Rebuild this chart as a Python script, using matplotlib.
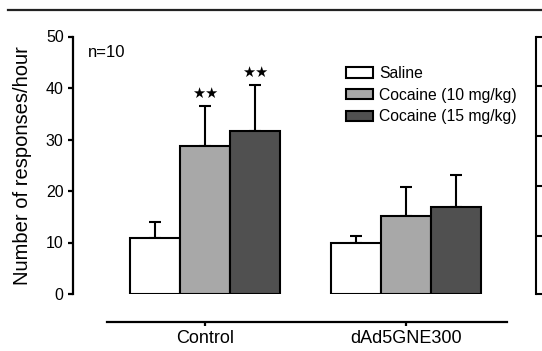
import matplotlib
matplotlib.use("Agg")
import matplotlib.pyplot as plt
import numpy as np
from matplotlib.lines import Line2D

plt.rcParams['font.family'] = ['Liberation Sans', 'DejaVu Sans']

groups = ["Control", "dAd5GNE300"]
series = ["Saline", "Cocaine (10 mg/kg)", "Cocaine (15 mg/kg)"]
means = {
    "Saline": [10.8, 10.0],
    "Cocaine (10 mg/kg)": [28.8, 15.2],
    "Cocaine (15 mg/kg)": [31.6, 16.8],
}
err_top = {
    "Saline": [13.9, 11.2],
    "Cocaine (10 mg/kg)": [36.6, 20.8],
    "Cocaine (15 mg/kg)": [40.6, 23.1],
}
colors = ["#ffffff", "#a8a8a8", "#505050"]
signif = {
    "Cocaine (10 mg/kg)": ["★★", ""],
    "Cocaine (15 mg/kg)": ["★★", ""],
}
yticks = [0, 10, 20, 30, 40, 50]

W, H = 542, 351
fig = plt.figure(figsize=(W / 100, H / 100), dpi=100)

def fx(px):
    return px / W

def fy(py):
    return 1 - py / H

ax_left, ax_right = 72.7, 507
ax_top, ax_bot = 36.5, 294
ax = fig.add_axes([fx(ax_left), fy(ax_bot), fx(ax_right - ax_left), (ax_bot - ax_top) / H])

x = np.arange(len(groups))
bw = 0.249
for i, s in enumerate(series):
    xs = x + (i - 1) * bw
    m = np.array(means[s])
    e = np.array(err_top[s]) - m
    ax.bar(xs, m, width=bw, color=colors[i], edgecolor="black", linewidth=1.5,
           label=s, zorder=2)
    ax.errorbar(xs, m, yerr=[np.zeros_like(e), e], fmt="none", ecolor="black",
                elinewidth=1.5, capsize=4.3, capthick=1.5, zorder=1)
    if s in signif:
        for j, t in enumerate(signif[s]):
            if t:
                ax.text(xs[j], err_top[s][j] + 0.9, t, ha="center", va="bottom",
                        fontsize=10.5, family=["DejaVu Sans"], color="black")

ax.set_xlim(-0.658, 1.502)
ax.set_ylim(0, 50)
for sp in ["top", "right"]:
    ax.spines[sp].set_visible(False)
ax.spines["left"].set_linewidth(1.6)
ax.spines["left"].set_bounds(0, 50)
ax.spines["bottom"].set_linewidth(1.6)
ax.spines["bottom"].set_position(("outward", 20.2))
ax.spines["bottom"].set_bounds(-0.4876, 1.502)
ax.set_yticks(yticks)
ax.set_xticks(x)
ax.set_xticklabels(groups, fontsize=13)
ax.tick_params(axis="y", direction="out", length=3.5, width=1.6, pad=3, labelsize=11.5)
ax.tick_params(axis="x", direction="out", length=3, width=1.6, pad=3)
ax.set_ylabel("Number of responses/hour", fontsize=14.5, labelpad=10)

ax.text(-0.582, 46.0, "n=10", fontsize=12, ha="left", va="baseline")

leg = ax.legend(loc="upper left", bbox_to_anchor=(fx(345.5), fy(66)),
                bbox_transform=fig.transFigure, frameon=False, fontsize=11.3,
                handlelength=1.75, handleheight=0.62, handletextpad=0.4,
                labelspacing=0.42, borderpad=0, borderaxespad=0)

# partial next panel on the right
ax2 = fig.add_axes([fx(536), fy(ax_bot), 0.2, (ax_bot - ax_top) / H])
ax2.set_ylim(0, 50)
for sp in ["top", "right", "bottom"]:
    ax2.spines[sp].set_visible(False)
ax2.spines["left"].set_linewidth(1.5)
ax2.spines["left"].set_bounds(-1.7, 50)
ax2.set_yticks([-1.7] + yticks[1:])
ax2.set_yticklabels([])
ax2.set_xticks([])
ax2.tick_params(axis="y", direction="in", length=5, width=1.5)
ax2.patch.set_visible(False)

# top rule
fig.add_artist(Line2D([fx(8), 1.0], [fy(10), fy(10)], color="#222222", linewidth=1.6))

fig.savefig("out.png", dpi=100)
